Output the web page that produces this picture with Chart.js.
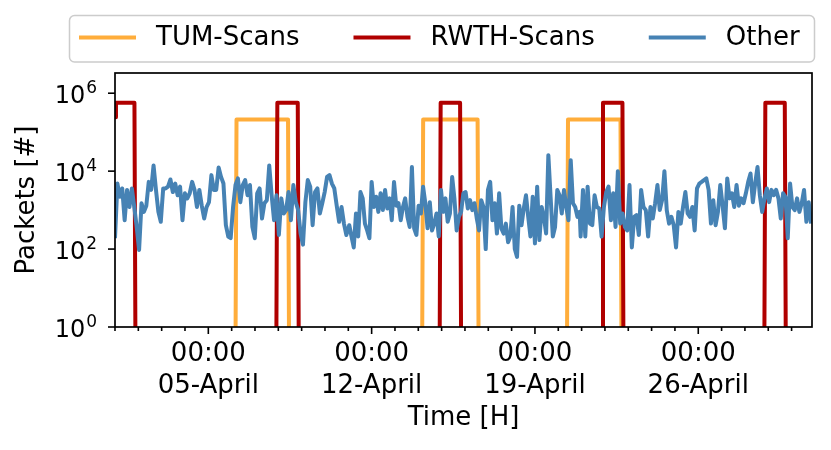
<!DOCTYPE html>
<html>
<head>
<meta charset="utf-8">
<script src="https://cdn.jsdelivr.net/npm/chart.js@4/dist/chart.umd.min.js"></script>
<style>
  html, body { margin: 0; padding: 0; background: #fff; }
</style>
</head>
<body>
<canvas id="grafico" width="831" height="450"></canvas>
<script>
// horas desde 01-April 00:00
const horaMax = 717;

// ticks del eje x (uno por dia, etiqueta solo en los lunes)
const xTickHoras = [96, 264, 432, 600];
const xTickDias = ['05-April', '12-April', '19-April', '26-April'];
const xTickHora = '00:00';

// ticks del eje y
const yTicks = [1, 100, 10000, 1000000];
const yExponentes = [0, 2, 4, 6];

// TUM-Scans
const tumHoras = [0, 124, 125, 178, 179, 316, 317, 373, 374, 465, 466, 520, 521, 717];
const tumValores = [0, 0, 210000, 210000, 0, 0, 210000, 210000, 0, 0, 210000, 210000, 0, 0];

// RWTH-Scans
const rwthHoras = [0, 1, 20, 21, 166, 167, 188, 189, 334, 335, 355, 356, 501, 502, 522, 523, 668, 669, 689, 690, 717];
const rwthValores = [240000, 570000, 570000, 0, 0, 570000, 570000, 0, 0, 570000, 570000, 0, 0, 570000, 570000, 0, 0, 570000, 570000, 0, 0];

const otrosTramos = [[0, 238], [241, 478], [479, 716]];
const otrosParte1 = [
  190, 4800, 2200, 3600, 550, 3300, 1200, 3600, 1200, 370,
  95, 1500, 900, 1300, 5300, 3300, 14000, 3300, 900, 500,
  3600, 3600, 4000, 6100, 2900, 4800, 2400, 4000, 550, 2700,
  2000, 2700, 5300, 3300, 1200, 3300, 1300, 610, 1200, 1600,
  7900, 3300, 3300, 12400, 7100, 4800, 410, 210, 190, 1200,
  4400, 6500, 1600, 4400, 5900, 2400, 4400, 370, 190, 2700,
  3600, 610, 1500, 1800, 14000, 2400, 550, 2400, 230, 2000,
  820, 1000, 2900, 550, 4400, 1600, 1000, 250, 130, 1600,
  5900, 4000, 410, 2900, 3600, 820, 1500, 2900, 7100, 7900,
  4800, 3600, 1300, 500, 1200, 450, 230
];
const otrosParte2 = [
  410, 210, 110, 820, 210, 2900, 2000, 450, 300, 190,
  5300, 1200, 2200, 900, 2700, 1000, 3300, 1100, 2000, 550,
  5300, 1300, 1500, 550, 1200, 2000, 670, 370, 12800, 340,
  230, 1300, 820, 4000, 1500, 340, 1600, 300, 450, 820,
  210, 3300, 900, 2000, 500, 820, 7100, 2000, 300, 670,
  900, 2700, 2900, 1100, 1800, 1000, 1500, 610, 300, 1800,
  1200, 100, 3300, 5300, 550, 1500, 250, 2700, 340, 250,
  450, 150, 210, 1200, 100, 63, 1300, 410, 1100, 2400,
  670, 210, 2200, 140, 4000, 170, 1200, 670, 250, 25700,
  2200, 210, 370, 3300, 2400, 820, 3300, 1200, 550, 19100,
  1500, 1200, 670, 900
];
const otrosParte3 = [
  210, 3300, 210, 4000, 450, 410, 2400, 1200, 1100, 210,
  1200, 2900, 4000, 550, 2700, 370, 10000, 450, 820, 370,
  300, 4400, 110, 670, 740, 230, 3300, 1200, 1000, 210,
  1200, 610, 1500, 4400, 1000, 1800, 10000, 1000, 450, 670,
  410, 110, 900, 450, 1200, 2900, 820, 670, 1200, 300,
  3600, 4800, 5300, 5900, 6500, 3300, 450, 1800, 410, 900,
  4400, 1300, 340, 6500, 2000, 2700, 1200, 4400, 1300, 2000,
  1500, 2700, 5300, 8700, 1600, 4800, 12800, 2400, 900, 2000,
  3600, 1600, 3300, 2400, 3300, 2000, 610, 2700, 2200, 190,
  4800, 1200, 1000, 2000, 900, 1500, 3300, 500, 1600, 450
];

const fuente = 'DejaVu Sans';
const suelo = 0.5; // 0 paquetes: se dibuja por debajo del eje

function puntos(horas, valores) {
  return horas.map((h, i) => ({ x: h, y: valores[i] > 0 ? valores[i] : suelo }));
}

function tramo(valores, desde, hasta) {
  const paso = (hasta - desde) / (valores.length - 1);
  return valores.map((v, i) => ({ x: desde + i * paso, y: v }));
}

const datosOtros = [
  ...tramo(otrosParte1, otrosTramos[0][0], otrosTramos[0][1]),
  ...tramo(otrosParte2, otrosTramos[1][0], otrosTramos[1][1]),
  ...tramo(otrosParte3, otrosTramos[2][0], otrosTramos[2][1])
];

const diasTicks = [];
for (let h = 0; h <= horaMax; h += 24) diasTicks.push(h);

// marco, ticks, etiquetas del eje y y leyenda
const marcoPlugin = {
  id: 'marco',
  afterDatasetsDraw(chart) {
    const { ctx, chartArea: a, scales: { x, y } } = chart;
    ctx.save();
    ctx.strokeStyle = '#000';
    ctx.lineWidth = 1.7;
    ctx.strokeRect(a.left, a.top, a.right - a.left, a.bottom - a.top);

    ctx.lineWidth = 1.6;
    diasTicks.forEach(h => {
      const px = x.getPixelForValue(h);
      const largo = xTickHoras.includes(h) ? 7 : 4;
      ctx.beginPath();
      ctx.moveTo(px, a.bottom);
      ctx.lineTo(px, a.bottom + largo);
      ctx.stroke();
    });

    ctx.fillStyle = '#000';
    ctx.textAlign = 'right';
    ctx.textBaseline = 'alphabetic';
    yTicks.forEach((v, i) => {
      const py = y.getPixelForValue(v);
      ctx.beginPath();
      ctx.moveTo(a.left - 7, py);
      ctx.lineTo(a.left, py);
      ctx.stroke();
      const exp = String(yExponentes[i]);
      const xr = a.left - 18;
      ctx.font = '17px "' + fuente + '"';
      ctx.fillText(exp, xr, py);
      const w = ctx.measureText(exp).width;
      ctx.font = '24px "' + fuente + '"';
      ctx.fillText('10', xr - w - 1, py + 10);
    });

    // leyenda
    ctx.beginPath();
    ctx.roundRect(69.5, 15.5, 745, 46.5, 5);
    ctx.fillStyle = 'rgba(255,255,255,0.8)';
    ctx.fill();
    ctx.strokeStyle = '#cccccc';
    ctx.lineWidth = 1.5;
    ctx.stroke();

    let cx = 79;
    ctx.font = '26px "' + fuente + '"';
    ctx.textAlign = 'left';
    chart.data.datasets.forEach(ds => {
      ctx.strokeStyle = ds.borderColor;
      ctx.lineWidth = 4;
      ctx.beginPath();
      ctx.moveTo(cx, 37.5);
      ctx.lineTo(cx + 57, 37.5);
      ctx.stroke();
      cx += 77;
      ctx.fillStyle = '#000';
      ctx.fillText(ds.label, cx, 45);
      cx += ctx.measureText(ds.label).width + 54;
    });
    ctx.restore();
  }
};

const grafico = new Chart(document.getElementById('grafico').getContext('2d'), {
  type: 'line',
  data: {
    datasets: [{
      label: 'TUM-Scans',
      data: puntos(tumHoras, tumValores),
      borderColor: '#ffad3b',
      borderWidth: 4,
      order: 3
    }, {
      label: 'RWTH-Scans',
      data: puntos(rwthHoras, rwthValores),
      borderColor: '#b00000',
      borderWidth: 4,
      order: 2
    }, {
      label: 'Other',
      data: datosOtros,
      borderColor: '#4682b4',
      borderWidth: 4,
      order: 1
    }]
  },
  options: {
    responsive: false,
    animation: false,
    events: [],
    layout: { padding: { top: 73, right: 19, left: 0, bottom: 0 } },
    elements: {
      line: { tension: 0, fill: false, borderJoinStyle: 'round' },
      point: { radius: 0 }
    },
    plugins: {
      legend: { display: false },
      tooltip: { enabled: false }
    },
    scales: {
      x: {
        type: 'linear',
        min: 0,
        max: horaMax,
        afterBuildTicks: s => { s.ticks = diasTicks.map(v => ({ value: v })); },
        afterFit: s => { s.height = 123; },
        grid: { display: false, drawTicks: false },
        border: { display: false },
        ticks: {
          autoSkip: false,
          maxRotation: 0,
          color: '#000',
          padding: 11,
          font: { family: fuente, size: 26, lineHeight: 1.23 },
          callback: v => {
            const i = xTickHoras.indexOf(v);
            return i < 0 ? '' : [xTickHora, xTickDias[i]];
          }
        },
        title: {
          display: true,
          text: 'Time [H]',
          color: '#000',
          font: { family: fuente, size: 26 },
          padding: { top: 0, bottom: 16 }
        }
      },
      y: {
        type: 'logarithmic',
        min: 1,
        max: 3300000,
        afterBuildTicks: s => { s.ticks = yTicks.map(v => ({ value: v })); },
        afterFit: s => { s.width = 115; },
        grid: { display: false, drawTicks: false },
        border: { display: false },
        ticks: { display: false },
        title: {
          display: true,
          text: 'Packets [#]',
          color: '#000',
          font: { family: fuente, size: 26 },
          padding: { top: 12, bottom: 0 }
        }
      }
    }
  },
  plugins: [marcoPlugin]
});
</script>
</body>
</html>
